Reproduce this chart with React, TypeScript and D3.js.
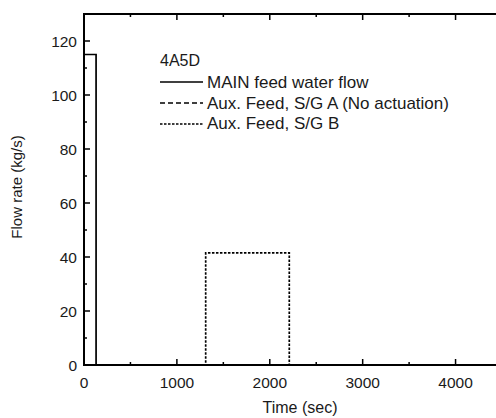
import React from "react";
import * as d3 from "d3";

const mainTime = [0, 130, 130, 4500];
const mainFlow = [115, 115, 0, 0];
const auxATime = [0, 4500];
const auxAFlow = [0, 0];
const auxBTime = [0, 1310, 1310, 2210, 2210, 4500];
const auxBFlow = [0, 0, 41.5, 41.5, 0, 0];

const xTicks = [0, 1000, 2000, 3000, 4000];
const yTicks = [0, 20, 40, 60, 80, 100, 120];
const xMinor = [500, 1500, 2500, 3500];
const yMinor = [10, 30, 50, 70, 90, 110];

const legendTitle = "4A5D";
const legendLabels = [
  "MAIN feed water flow",
  "Aux. Feed, S/G A (No actuation)",
  "Aux. Feed, S/G B",
];
const dashes = ["none", "5,3", "2.5,1.5"];

export default function App() {
  const W = 496, H = 418;
  const left = 84, top = 14, bottom = 365, right = 502;
  const x = d3.scaleLinear().domain([0, 4500]).range([left, right]);
  const y = d3.scaleLinear().domain([0, 130]).range([bottom, top]);
  const line = (ts: number[], vs: number[]) =>
    d3.line<number>().x((_, i) => x(ts[i])).y((v) => y(v))(vs) || "";
  const series = [
    { t: mainTime, v: mainFlow },
    { t: auxATime, v: auxAFlow },
    { t: auxBTime, v: auxBFlow },
  ];
  const font = "Liberation Sans, Arial, sans-serif";
  return (
    <svg width={W} height={H} style={{ position: "absolute", left: 0, top: 0, background: "#fff" }} fontFamily={font}>
      {series.map((s, i) => (
        <path key={i} d={line(s.t, s.v)} fill="none" stroke="#000" strokeWidth={1.7} strokeDasharray={dashes[i]} />
      ))}
      <rect x={left} y={top} width={right - left} height={bottom - top} fill="none" stroke="#000" strokeWidth={2} />
      {xTicks.map((t) => (
        <g key={"xt" + t}>
          <line x1={x(t)} x2={x(t)} y1={bottom} y2={bottom - 6} stroke="#000" strokeWidth={1.5} />
          <line x1={x(t)} x2={x(t)} y1={top} y2={top + 6} stroke="#000" strokeWidth={1.5} />
          <text x={x(t)} y={388} textAnchor="middle" fontSize={15.5} fill="#1a1a1a">{t}</text>
        </g>
      ))}
      {xMinor.map((t) => (
        <g key={"xm" + t}>
          <line x1={x(t)} x2={x(t)} y1={bottom} y2={bottom - 3} stroke="#000" strokeWidth={1.5} />
          <line x1={x(t)} x2={x(t)} y1={top} y2={top + 3} stroke="#000" strokeWidth={1.5} />
        </g>
      ))}
      {yTicks.map((v) => (
        <g key={"yt" + v}>
          <line x1={left} x2={left + 6} y1={y(v)} y2={y(v)} stroke="#000" strokeWidth={1.5} />
          <line x1={right} x2={right - 6} y1={y(v)} y2={y(v)} stroke="#000" strokeWidth={1.5} />
          <text x={77} y={y(v) + 5.5} textAnchor="end" fontSize={15.5} fill="#1a1a1a">{v}</text>
        </g>
      ))}
      {yMinor.map((v) => (
        <g key={"ym" + v}>
          <line x1={left} x2={left + 3} y1={y(v)} y2={y(v)} stroke="#000" strokeWidth={1.5} />
          <line x1={right} x2={right - 3} y1={y(v)} y2={y(v)} stroke="#000" strokeWidth={1.5} />
        </g>
      ))}
      <text x={300} y={413} textAnchor="middle" fontSize={16} fill="#1a1a1a">Time (sec)</text>
      <text transform="translate(22,187) rotate(-90)" textAnchor="middle" fontSize={15} fill="#1a1a1a">Flow rate (kg/s)</text>
      <text x={160} y={66} fontSize={16} fill="#1a1a1a">{legendTitle}</text>
      {legendLabels.map((l, i) => (
        <g key={l}>
          <line x1={160} x2={203} y1={82 + i * 21} y2={82 + i * 21} stroke="#000" strokeWidth={1.7} strokeDasharray={dashes[i]} />
          <text x={207} y={88 + i * 20.5} fontSize={17} fill="#1a1a1a">{l}</text>
        </g>
      ))}
    </svg>
  );
}
